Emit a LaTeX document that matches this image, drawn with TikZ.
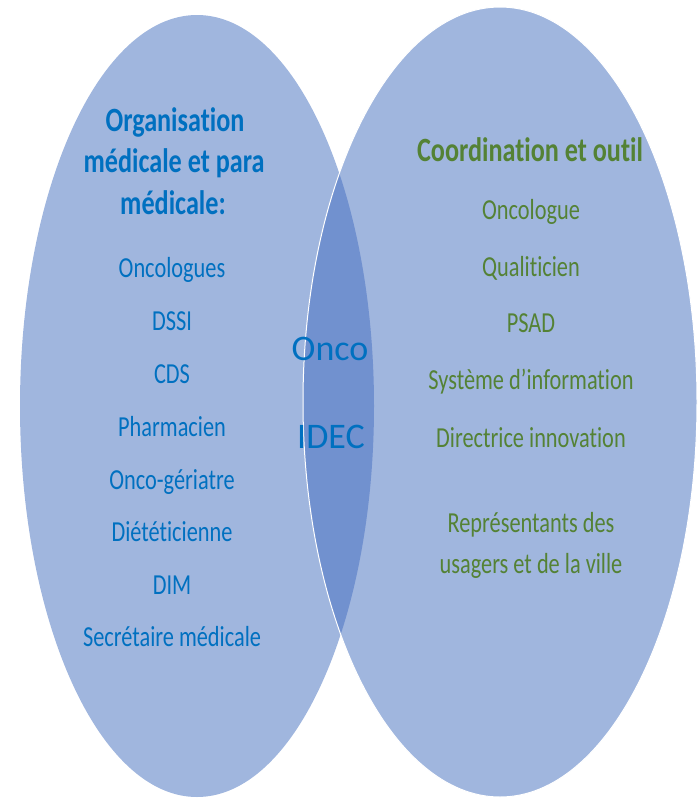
\documentclass[tikz,border=0pt]{standalone}
\usepackage{fontspec}
\setmainfont{Carlito}[Ligatures=NoCommon]
\newfontfamily\colfont{Carlito}[FakeStretch=0.77, Ligatures=NoCommon]
\definecolor{ellfill}{HTML}{A0B6DE}
\definecolor{lensfill}{HTML}{7191CF}
\definecolor{bluetxt}{HTML}{0070C0}
\definecolor{greentxt}{HTML}{548235}
\begin{document}
\begin{tikzpicture}[x=1pt,y=-1pt,
  txt/.style={anchor=base, inner sep=0pt, font=\colfont\fontsize{29}{34}\selectfont},
  lefttxt/.style={txt, text=bluetxt},
  righttxt/.style={txt, text=greentxt},
  lefttitle/.style={lefttxt, font=\colfont\fontsize{34}{40}\selectfont\bfseries},
  righttitle/.style={righttxt, font=\colfont\fontsize{34}{40}\selectfont\bfseries},
  midtxt/.style={anchor=base, inner sep=0pt, text=bluetxt, font=\fontsize{36}{42}\selectfont},
  leftell/.style={x radius=177pt, y radius=391pt},
  rightell/.style={x radius=197pt, y radius=395pt}]
\useasboundingbox (0,0) rectangle (698,798);
% ellipses
\fill[ellfill] (197,406) ellipse [leftell];
\fill[ellfill] (500,402) ellipse [rightell];
\begin{scope}
  \clip (197,406) ellipse [leftell];
  \fill[lensfill] (500,402) ellipse [rightell];
\end{scope}
\draw[white, line width=1pt] (500,402) ellipse [rightell];
% left column
\node[lefttitle] (t1) at (175,131) {Organisation};
\node[lefttitle] (t2) at (174,172) {médicale et para};
\node[lefttitle] (t3) at (173,214) {médicale:};
\node[lefttxt] (l1) at (172,277) {Oncologues};
\node[lefttxt] (l2) at (172,330) {DSSI};
\node[lefttxt] (l3) at (172,383) {CDS};
\node[lefttxt] (l4) at (172,436) {Pharmacien};
\node[lefttxt] (l5) at (172,489) {Onco-gériatre};
\node[lefttxt] (l6) at (172,541) {Diététicienne};
\node[lefttxt] (l7) at (172,594) {DIM};
\node[lefttxt] (l8) at (172,646) {Secrétaire médicale};
% middle
\node[midtxt] (m1) at (330,360) {Onco};
\node[midtxt] (m2) at (331,448) {IDEC};
% right column
\node[righttitle] (r0) at (530,161) {Coordination et outil};
\node[righttxt] (r1) at (531,219) {Oncologue};
\node[righttxt] (r2) at (531,276) {Qualiticien};
\node[righttxt] (r3) at (531,332) {PSAD};
\node[righttxt] (r4) at (531,389) {Système d’information};
\node[righttxt] (r5) at (531,447) {Directrice innovation};
\node[righttxt] (r6) at (531,532) {Représentants des};
\node[righttxt] (r7) at (531,573) {usagers et de la ville};
\end{tikzpicture}
\end{document}
